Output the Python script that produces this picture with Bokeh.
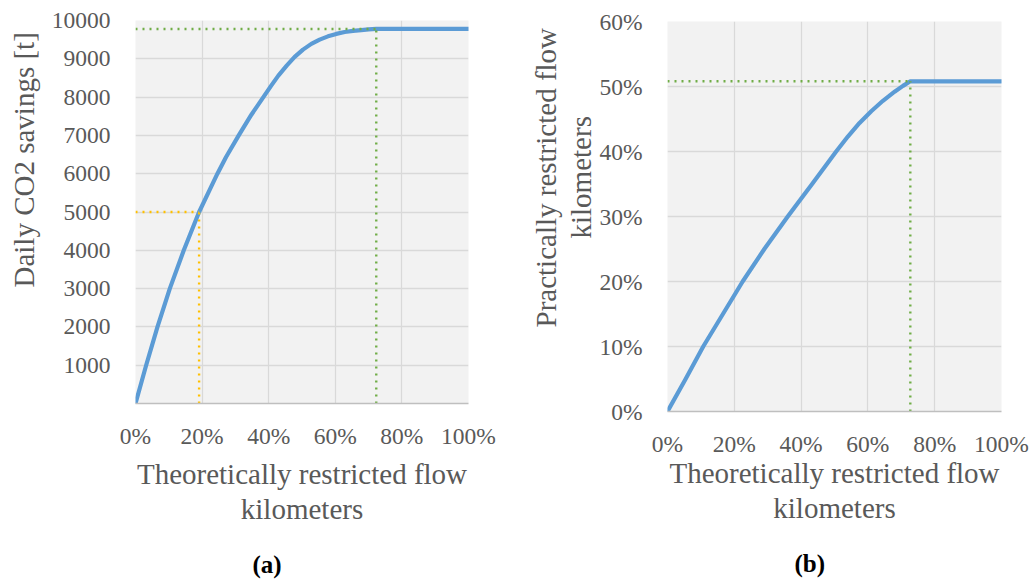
from bokeh.plotting import figure
from bokeh.layouts import row
from bokeh.models import Range1d, FixedTicker, PrintfTickFormatter, Title
from bokeh.embed import file_html
from bokeh.resources import INLINE

# ---------------- data ----------------
x_ticks = [0, 20, 40, 60, 80, 100]

# panel (a): theoretically restricted flow km [%] vs daily CO2 savings [t]
theo_a = [0, 3.2, 6.6, 10.3, 14.5, 19.1, 22.2, 24.6, 27.2, 31.0, 34.8, 38.4,
          40.6, 42.9, 45.4, 47.8, 50.3, 52.8, 55.3, 57.8, 60.3, 62.8, 65.3,
          67.8, 70.0, 72.3, 100.0]
co2_a = [0, 1000, 2000, 3000, 4000, 5000, 5565, 6000, 6436, 7000, 7540, 8000,
         8280, 8560, 8820, 9050, 9240, 9390, 9500, 9586, 9650, 9699, 9730,
         9751, 9768, 9780, 9780]
a_y_ticks = [0, 1000, 2000, 3000, 4000, 5000, 6000, 7000, 8000, 9000, 10000]
a_green = (72.3, 9780)
a_orange = (19.1, 5000)

# panel (b): theoretically vs practically restricted flow km [%]
theo_b = [0, 5.3, 10.7, 22.5, 29.0, 36.0, 43.3, 50.5, 54.0, 57.5, 61.0, 64.5,
          68.0, 70.5, 72.7, 100.0]
prac_b = [0, 4.9, 10.0, 20.0, 25.0, 30.0, 35.0, 40.0, 42.3, 44.4, 46.2, 47.8,
          49.2, 50.1, 50.8, 50.8]
b_y_ticks = [0, 10, 20, 30, 40, 50, 60]
b_green = (72.7, 50.8)

x_title = "Theoretically restricted flow\nkilometers"
a_y_title = "Daily CO2 savings [t]"
b_y_title_1 = "Practically restricted flow"
b_y_title_2 = "kilometers"

# ---------------- style ----------------
FONT = "Liberation Serif"
TXT = "#595959"
GRID = "#D9D9D9"
BLUE = "#5B9BD5"
GREEN = "#70AD47"
ORANGE = "#FFC000"
TICK_FS = "23.5px"
TITLE_FS = "29px"
DOT = "2 5"


def make_fig(width, height, bl, br, bt, bb, xr, yr, yticks, xlab_standoff):
    p = figure(width=width, height=height, output_backend="svg", toolbar_location=None,
               x_range=Range1d(*xr), y_range=Range1d(*yr),
               min_border_left=bl, min_border_right=br,
               min_border_top=bt, min_border_bottom=bb,
               background_fill_color="#F2F2F2", border_fill_color="white",
               outline_line_color=None, frame_align=False)
    p.xaxis.ticker = FixedTicker(ticks=x_ticks)
    p.yaxis.ticker = FixedTicker(ticks=yticks)
    p.xaxis.formatter = PrintfTickFormatter(format="%d%%")
    for ax in (p.xaxis, p.yaxis):
        ax.major_tick_line_color = None
        ax.minor_tick_line_color = None
        ax.major_tick_out = 0
        ax.major_tick_in = 0
        ax.major_label_text_font = FONT
        ax.major_label_text_font_size = TICK_FS
        ax.major_label_text_color = TXT
    p.xaxis.axis_line_color = "#BFBFBF"
    p.xaxis.axis_line_width = 1.6
    p.yaxis.axis_line_color = None
    p.xaxis.major_label_standoff = 19
    p.yaxis.major_label_standoff = 25
    p.xaxis.axis_label = x_title
    p.xaxis.axis_label_text_font = FONT
    p.xaxis.axis_label_text_font_size = TITLE_FS
    p.xaxis.axis_label_text_font_style = "normal"
    p.xaxis.axis_label_text_color = TXT
    p.xaxis.axis_label_text_line_height = 1.1
    p.xaxis.axis_label_standoff = xlab_standoff
    p.xgrid.grid_line_color = GRID
    p.ygrid.grid_line_color = GRID
    p.xgrid.grid_line_width = 1.3
    p.ygrid.grid_line_width = 1.3
    return p


def side_title(p, side, text, offset, standoff, valign, size=TITLE_FS, bold=False, lh=1.2):
    p.add_layout(Title(text=text, align="left", offset=offset, standoff=standoff,
                       vertical_align=valign, text_font=FONT, text_font_size=size,
                       text_font_style="bold" if bold else "normal",
                       text_line_height=lh,
                       text_color="black" if bold else TXT), side)


def guides(p, pt, color):
    p.line([0, pt[0]], [pt[1], pt[1]], line_color=color, line_width=2.4, line_dash=DOT)
    p.line([pt[0], pt[0]], [0, pt[1]], line_color=color, line_width=2.4, line_dash=DOT)


# ---------------- panel (a) ----------------
pa = make_fig(517, 580, 133, 49, 20, 177, (0, 100), (0, 10000), a_y_ticks, 6)
pa.yaxis.major_label_overrides = {0: ""}
pa.line(theo_a, co2_a, line_color=BLUE, line_width=4.2, line_join="round", line_cap="round")
guides(pa, a_green, GREEN)
guides(pa, a_orange, ORANGE)
side_title(pa, "left", a_y_title, 116, 14, "top")
side_title(pa, "below", "\n(a)", 117, 0, "bottom", size="25px", bold=True, lh=0.83)

# ---------------- panel (b) ----------------
pb = make_fig(517, 580, 150, 33, 21, 169, (0, 100), (0, 60), b_y_ticks, -3)
pb.yaxis.formatter = PrintfTickFormatter(format="%d%%")
pb.line(theo_b, prac_b, line_color=BLUE, line_width=4.2, line_join="round", line_cap="round")
guides(pb, b_green, GREEN)
side_title(pb, "left", b_y_title_2, 173, 0, "bottom")
side_title(pb, "left", b_y_title_1, 84, 2, "bottom")
side_title(pb, "below", "\n(b)", 127, 0, "bottom", size="25px", bold=True, lh=0.83)

layout = row(pa, pb)
open("out.html", "w").write(file_html(layout, INLINE))
